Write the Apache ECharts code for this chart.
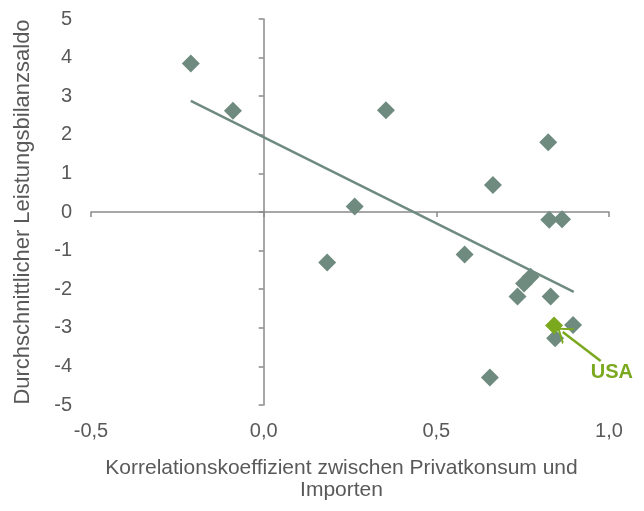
<!DOCTYPE html>
<html>
<head>
<meta charset="utf-8">
<script src="https://cdn.jsdelivr.net/npm/echarts@6/dist/echarts.min.js"></script>
<style>
html,body{margin:0;padding:0;background:#fff;}
#chart{width:644px;height:511px;}
</style>
</head>
<body>
<div id="chart"></div>
<script>
// Data
var countryX = [-0.211, -0.089, 0.354, 0.824, 0.664, 0.2635, 0.827, 0.864, 0.184, 0.582, 0.754, 0.773, 0.735, 0.831, 0.896, 0.844, 0.655];
var countryY = [3.85, 2.62, 2.635, 1.805, 0.70, 0.14, -0.20, -0.19, -1.31, -1.10, -1.85, -1.68, -2.19, -2.19, -2.93, -3.27, -4.29];
var usaX = [0.841];
var usaY = [-2.94];
var trendX = [-0.211, 0.898];
var trendY = [2.88, -2.07];
var xTickLabels = ['-0,5', '0,0', '0,5', '1,0'];
var yTickLabels = ['-5', '-4', '-3', '-2', '-1', '0', '1', '2', '3', '4', '5'];
var usaLabel = 'USA';
var usaArrowFrom = [0.976, -3.86];
var usaArrowTo = [0.866, -3.11];
var usaLabelPos = [0.947, -4.17];
var xTitle = 'Korrelationskoeffizient zwischen Privatkonsum und\nImporten';
var yTitle = 'Durchschnittlicher Leistungsbilanzsaldo';

var pointColor = '#6f8b80';
var usaColor = '#7aa81e';
var axisColor = '#8a8a8a';
var textColor = '#595959';
var font = 'Liberation Sans, Arial, sans-serif';

function zip(a, b) { return a.map(function (v, i) { return [v, b[i]]; }); }

var chart = echarts.init(document.getElementById('chart'), null, {renderer: 'canvas'});
var option = {
  animation: false,
  backgroundColor: '#fff',
  grid: {left: 91, right: 35, top: 19, bottom: 106, containLabel: false},
  xAxis: [
    {
      type: 'value', min: -0.5, max: 1.0, interval: 0.5, position: 'bottom',
      axisLine: {show: false, onZero: false},
      axisTick: {show: false},
      splitLine: {show: false},
      axisLabel: {
        color: textColor, fontSize: 20, fontFamily: font, margin: 16,
        formatter: function (v, i) { return xTickLabels[Math.round((v + 0.5) / 0.5)]; }
      },
      name: xTitle, nameLocation: 'middle', nameGap: 52,
      nameTextStyle: {color: textColor, fontSize: 21, fontFamily: font, lineHeight: 22, padding: [0, 17, 0, 0]}
    },
    {
      type: 'value', min: -0.5, max: 1.0, interval: 0.5, position: 'bottom',
      axisLine: {show: true, onZero: true, onZeroAxisIndex: 0, lineStyle: {color: axisColor, width: 1.5}},
      axisTick: {show: true, length: 5, lineStyle: {color: axisColor, width: 1.5}},
      splitLine: {show: false},
      axisLabel: {show: false}
    }
  ],
  yAxis: [
    {
      type: 'value', min: -5, max: 5, interval: 1, position: 'left',
      axisLine: {show: false, onZero: false},
      axisTick: {show: false},
      splitLine: {show: false},
      axisLabel: {
        color: textColor, fontSize: 20, fontFamily: font, margin: 19,
        formatter: function (v, i) { return yTickLabels[Math.round(v + 5)]; }
      },
      name: yTitle, nameLocation: 'middle', nameGap: 57, nameRotate: 90,
      nameTextStyle: {color: textColor, fontSize: 22, fontFamily: font}
    },
    {
      type: 'value', min: -5, max: 5, interval: 1, position: 'left',
      axisLine: {show: true, onZero: true, onZeroAxisIndex: 0, lineStyle: {color: axisColor, width: 1.5}},
      axisTick: {show: true, length: 5, lineStyle: {color: axisColor, width: 1.5}},
      splitLine: {show: false},
      axisLabel: {show: false}
    }
  ],
  series: [
    {
      type: 'line', xAxisIndex: 0, yAxisIndex: 0,
      data: zip(trendX, trendY), showSymbol: false, symbol: 'none',
      lineStyle: {color: pointColor, width: 2.5, opacity: 1}, z: 2, silent: true
    },
    {
      type: 'scatter', xAxisIndex: 0, yAxisIndex: 0,
      data: zip(countryX, countryY), symbol: 'diamond', symbolSize: 18,
      itemStyle: {color: pointColor, opacity: 1}, z: 3
    },
    {
      type: 'scatter', xAxisIndex: 0, yAxisIndex: 0,
      data: zip(usaX, usaY), symbol: 'diamond', symbolSize: 18,
      itemStyle: {color: usaColor, opacity: 1}, z: 4,
      markLine: {
        silent: true, animation: false,
        symbol: ['none', 'path://M0,14 L10,0 L20,14 L17.6,14 L10,3.4 L2.4,14 Z'],
        symbolSize: [20, 14],
        lineStyle: {color: usaColor, width: 2.5, type: 'solid', opacity: 1},
        label: {show: false},
        data: [[{coord: usaArrowFrom}, {coord: usaArrowTo}]]
      },
      markPoint: {
        silent: true, symbol: 'rect', symbolSize: 2,
        itemStyle: {color: 'rgba(0,0,0,0)'},
        label: {show: true, position: 'inside', align: 'left', verticalAlign: 'middle', formatter: usaLabel, color: usaColor, fontSize: 20, fontWeight: 'bold', fontFamily: font},
        data: [{coord: usaLabelPos, value: 0}]
      }
    }
  ]
};
chart.setOption(option);
</script>
</body>
</html>
